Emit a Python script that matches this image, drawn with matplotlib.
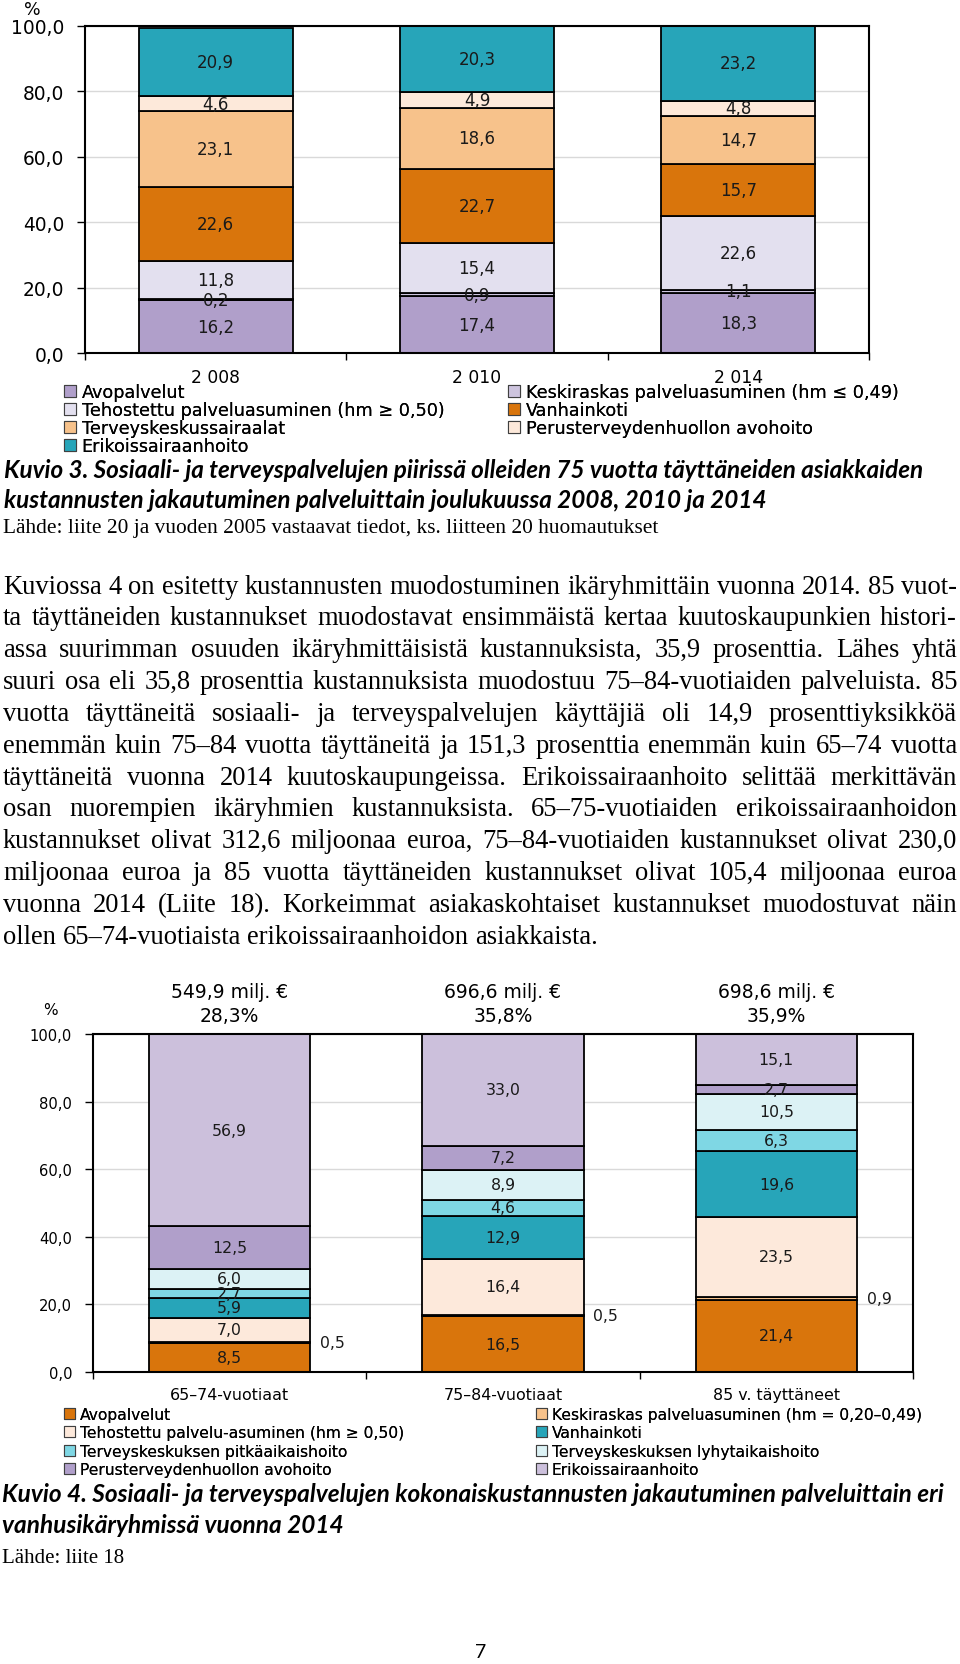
import numpy as np
import matplotlib.pyplot as plt
from matplotlib.patches import Patch

W, H = 960, 1665
fig = plt.figure(figsize=(W / 100, H / 100), dpi=100)
r = fig.canvas.get_renderer()


def fy(y):
    return 1 - y / H


def fmt(v):
    return f'{v:.1f}'.replace('.', ',')


# Kuvio 3 data (bottom to top)
years = ['2 008', '2 010', '2 014']
avo_1 = [16.2, 17.4, 18.3]
keski_1 = [0.2, 0.9, 1.1]
teho_1 = [11.8, 15.4, 22.6]
vanha_1 = [22.6, 22.7, 15.7]
tksair_1 = [23.1, 18.6, 14.7]
perus_1 = [4.6, 4.9, 4.8]
erik_1 = [20.9, 20.3, 23.2]
names_1 = ['Avopalvelut', 'Keskiraskas palveluasuminen (hm \u2264 0,49)',
           'Tehostettu palveluasuminen (hm \u2265 0,50)', 'Vanhainkoti',
           'Terveyskeskussairaalat', 'Perusterveydenhuollon avohoito',
           'Erikoissairaanhoito']
colors_1 = ['#b09fca', '#cdc4de', '#e3e0ef', '#d9750c', '#f7c28b', '#fde9da', '#27a5b9']

# Kuvio 4 data (bottom to top)
groups = ['65\u201374-vuotiaat', '75\u201384-vuotiaat', '85 v. t\u00e4ytt\u00e4neet']
avo_2 = [8.5, 16.5, 21.4]
keski_2 = [0.5, 0.5, 0.9]
teho_2 = [7.0, 16.4, 23.5]
vanha_2 = [5.9, 12.9, 19.6]
pitka_2 = [2.7, 4.6, 6.3]
lyhyt_2 = [6.0, 8.9, 10.5]
perus_2 = [12.5, 7.2, 2.7]
erik_2 = [56.9, 33.0, 15.1]
totals_2 = [549.9, 696.6, 698.6]
shares_2 = [28.3, 35.8, 35.9]
names_2 = ['Avopalvelut', 'Keskiraskas palveluasuminen (hm = 0,20\u20130,49)',
           'Tehostettu palvelu-asuminen (hm \u2265 0,50)', 'Vanhainkoti',
           'Terveyskeskuksen pitk\u00e4aikaishoito', 'Terveyskeskuksen lyhytaikaishoito',
           'Perusterveydenhuollon avohoito', 'Erikoissairaanhoito']
colors_2 = ['#d9750c', '#f7c28b', '#fde9db', '#27a5b9', '#7fd7e4', '#dcf2f5', '#b09fca', '#ccc0dc']


def stacked(ax, cats, series, colors, fs, tick_fs, cat_fs, outside=()):
    x = np.arange(len(cats))
    bottom = np.zeros(len(cats))
    for k, (vals, col) in enumerate(zip(series, colors)):
        vals = np.array(vals)
        ax.bar(x, vals, 0.59, bottom=bottom, color=col, edgecolor='black', linewidth=1.3, zorder=2)
        for xi, b, v in zip(x, bottom, vals):
            if k in outside:
                ax.annotate(fmt(v), (xi + 0.295, b + v / 2), xytext=(7, 0), textcoords='offset points',
                            ha='left', va='center', fontsize=fs, color='#1a1a1a')
            else:
                ax.text(xi, b + v / 2, fmt(v), ha='center', va='center', fontsize=fs, color='#1a1a1a', zorder=3)
        bottom += vals
    ax.set_xlim(-0.5, len(cats) - 0.5)
    ax.set_ylim(0, 100)
    ax.set_yticks(range(0, 101, 20))
    ax.set_yticklabels([fmt(v) for v in range(0, 101, 20)])
    ax.yaxis.grid(True, color='#d9d9d9', lw=1)
    ax.set_axisbelow(True)
    ax.set_xticks(np.arange(-0.5, len(cats)), [''] * (len(cats) + 1))
    ax.set_xticks(x, cats, minor=True)
    ax.tick_params(axis='y', length=6, width=1, pad=9, labelsize=tick_fs)
    ax.tick_params(axis='x', which='major', length=5, width=1)
    ax.tick_params(axis='x', which='minor', length=0, pad=11, labelsize=cat_fs)
    for s in ax.spines.values():
        s.set_linewidth(1.5)
        s.set_color('black')


def legend_cols(names, colors, order_left, order_right, xl, xr, ytop, fs, pitch):
    for order, xx in ((order_left, xl), (order_right, xr)):
        hs = [Patch(facecolor=colors[i], edgecolor='#404040', linewidth=0.8) for i in order]
        lg = fig.legend(hs, [names[i] for i in order], loc='upper left',
                        bbox_to_anchor=(xx / W, fy(ytop)), frameon=False, fontsize=fs,
                        borderpad=0, borderaxespad=0, handlelength=0.7, handleheight=0.7,
                        handletextpad=0.3, labelspacing=pitch)
        fig.add_artist(lg)


# ---- Kuvio 3 chart
ax1 = fig.add_axes([85 / W, fy(354), 784 / W, 327 / H])
stacked(ax1, years, [avo_1, keski_1, teho_1, vanha_1, tksair_1, perus_1, erik_1], colors_1,
        12, 13.4, 12.3)
fig.text(32 / W, fy(10), '%', ha='center', va='center', fontsize=12.5)
legend_cols(names_1, colors_1, [0, 2, 4, 6], [1, 3, 5], 64, 508, 384, 12.7, 0.0)

# ---- Kuvio 4 chart
ax2 = fig.add_axes([93 / W, fy(1373), 820 / W, 338 / H])
stacked(ax2, groups, [avo_2, keski_2, teho_2, vanha_2, pitka_2, lyhyt_2, perus_2, erik_2],
        colors_2, 11.3, 10.6, 11.4, outside=(1,))
fig.text(50 / W, fy(1011), '%', ha='center', va='center', fontsize=11)
for i, (t, s) in enumerate(zip(totals_2, shares_2)):
    ax2.text(i, 1 + 42 / 338, fmt(t) + ' milj. \u20ac', transform=ax2.get_xaxis_transform(),
             ha='center', va='center', fontsize=13.5)
    ax2.text(i, 1 + 18 / 338, fmt(s) + '%', transform=ax2.get_xaxis_transform(),
             ha='center', va='center', fontsize=13.5)
legend_cols(names_2, colors_2, [0, 2, 4, 6], [1, 3, 5, 7], 64, 536, 1408, 11.2, 0.21)


# ---- text on the page
def fit_text(x, y, s, width, **kw):
    t = fig.text(x / W, fy(y), s, fontsize=10, va='center', **kw)
    w = t.get_window_extent(r).width
    t.set_fontsize(10 * width / w)
    return t


cap = dict(family=['Lato', 'DejaVu Sans'], weight='bold', style='italic')
c1 = fit_text(4, 470, 'Kuvio 3. Sosiaali- ja terveyspalvelujen piiriss\u00e4 olleiden 75 vuotta '
              't\u00e4ytt\u00e4neiden asiakkaiden', 920, **cap)
fig.text(4 / W, fy(500), 'kustannusten jakautuminen palveluittain joulukuussa 2008, 2010 ja 2014',
         fontsize=c1.get_fontsize(), va='center', **cap)
serif = ['Liberation Serif', 'DejaVu Serif']
fit_text(3, 529, 'L\u00e4hde: liite 20 ja vuoden 2005 vastaavat tiedot, ks. liitteen 20 huomautukset',
         654, family=serif)

c4 = fit_text(2, 1495, 'Kuvio 4. Sosiaali- ja terveyspalvelujen kokonaiskustannusten jakautuminen '
              'palveluittain eri', 939, **cap)
fig.text(2 / W, fy(1526), 'vanhusik\u00e4ryhmiss\u00e4 vuonna 2014', fontsize=c4.get_fontsize(),
         va='center', **cap)
fit_text(2, 1559, 'L\u00e4hde: liite 18', 122, family=serif)
fig.text(481 / W, fy(1653), '7', ha='center', va='center', fontsize=14, family=['Lato', 'DejaVu Sans'])

body = [
    'Kuviossa 4 on esitetty kustannusten muodostuminen ik\u00e4ryhmitt\u00e4in vuonna 2014. 85 vuot-',
    'ta t\u00e4ytt\u00e4neiden kustannukset muodostavat ensimm\u00e4ist\u00e4 kertaa kuutoskaupunkien histori-',
    'assa suurimman osuuden ik\u00e4ryhmitt\u00e4isist\u00e4 kustannuksista, 35,9 prosenttia. L\u00e4hes yht\u00e4',
    'suuri osa eli 35,8 prosenttia kustannuksista muodostuu 75\u201384-vuotiaiden palveluista. 85',
    'vuotta t\u00e4ytt\u00e4neit\u00e4 sosiaali- ja terveyspalvelujen k\u00e4ytt\u00e4ji\u00e4 oli 14,9 prosenttiyksikk\u00f6\u00e4',
    'enemm\u00e4n kuin 75\u201384 vuotta t\u00e4ytt\u00e4neit\u00e4 ja 151,3 prosenttia enemm\u00e4n kuin 65\u201374 vuotta',
    't\u00e4ytt\u00e4neit\u00e4 vuonna 2014 kuutoskaupungeissa. Erikoissairaanhoito selitt\u00e4\u00e4 merkitt\u00e4v\u00e4n',
    'osan nuorempien ik\u00e4ryhmien kustannuksista. 65\u201375-vuotiaiden erikoissairaanhoidon',
    'kustannukset olivat 312,6 miljoonaa euroa, 75\u201384-vuotiaiden kustannukset olivat 230,0',
    'miljoonaa euroa ja 85 vuotta t\u00e4ytt\u00e4neiden kustannukset olivat 105,4 miljoonaa euroa',
    'vuonna 2014 (Liite 18). Korkeimmat asiakaskohtaiset kustannukset muodostuvat n\u00e4in',
    'ollen 65\u201374-vuotiaista erikoissairaanhoidon asiakkaista.',
]
probe = fit_text(3, 938, body[-1], 596, family=serif)
body_fs = probe.get_fontsize()
probe.remove()
x0, x1 = 3, 957
for i, line in enumerate(body):
    y = 587 + i * 31.85
    words = line.split(' ')
    texts = [fig.text(0, fy(y), w, fontsize=body_fs, family=serif, va='center') for w in words]
    widths = [t.get_window_extent(r).width for t in texts]
    if i == len(body) - 1:
        gap = body_fs * 0.25 * 100 / 72
    else:
        gap = (x1 - x0 - sum(widths)) / (len(words) - 1)
    x = x0
    for t, w in zip(texts, widths):
        t.set_x(x / W)
        x += w + gap

fig.savefig('out.png', dpi=100)
